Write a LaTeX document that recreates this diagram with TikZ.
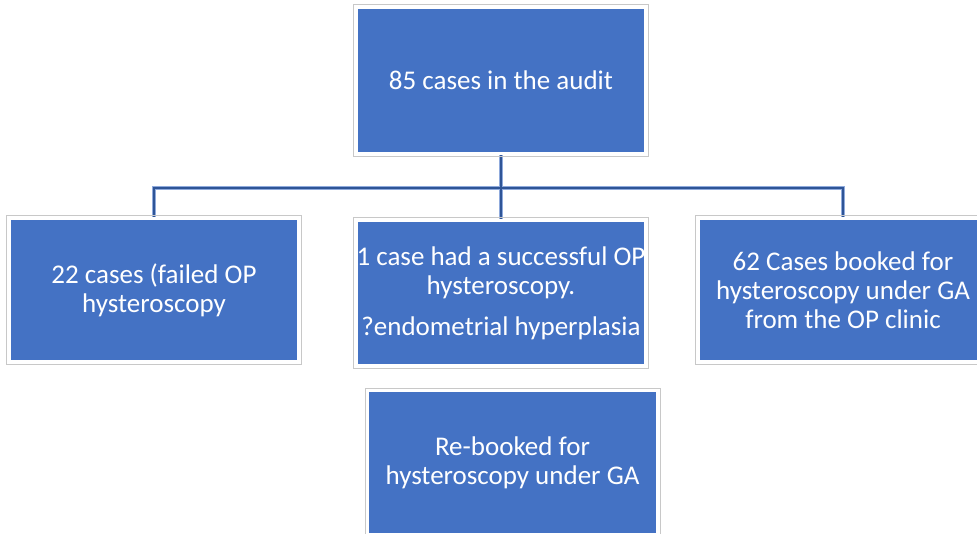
\documentclass[tikz,border=0pt]{standalone}
\usepackage{fontspec}
\setmainfont{Carlito}
\usetikzlibrary{backgrounds}
\definecolor{boxblue}{HTML}{4472C4}
\definecolor{linkblue}{HTML}{2F5597}
\definecolor{halo}{HTML}{8FAADC}
\definecolor{rim}{HTML}{C8C8C8}
\begin{document}
\begin{tikzpicture}[x=1pt,y=-1pt,
  boxnode/.style={fill=boxblue, draw=white, line width=2.5pt, minimum width=289pt, minimum height=143pt,
    inner sep=0pt, align=center, text=white, font=\fontsize{27}{29}\selectfont},
  linkhalo/.style={draw=halo, line width=4.6pt},
  link/.style={draw=linkblue, line width=2.6pt}]
\useasboundingbox (0,0) rectangle (977,534);
\clip (0,0) rectangle (977,534);
\node[boxnode, minimum height=146pt] (top) at (501,80.5) {85 cases in the audit};
\node[boxnode] (left) at (154,290) {22 cases (failed OP\\hysteroscopy};
\node[boxnode, minimum height=145pt] (mid) at (501,293) {1 case had a successful OP\\hysteroscopy.\\[12pt]?endometrial hyperplasia};
\node[boxnode] (right) at (843,290) {62 Cases booked for\\hysteroscopy under GA\\from the OP clinic};
\node[boxnode] (bottom) at (512.5,462.5) {Re-booked for\\hysteroscopy under GA};
\foreach \n in {top,left,mid,right,bottom}{
  \draw[rim, line width=0.9pt] ([shift={(-1.7pt,1.7pt)}]\n.north west) rectangle ([shift={(1.7pt,-1.7pt)}]\n.south east);
}
\coordinate (bus) at (501,188);
\begin{scope}[on background layer]
\fill[white] (0,0) rectangle (977,534);
\foreach \s in {linkhalo,link}{
  \draw[\s] (top.south) -- (bus) -- (mid.north);
  \draw[\s] (left.north) |- (bus) -| (right.north);
}
\end{scope}
\end{tikzpicture}
\end{document}
